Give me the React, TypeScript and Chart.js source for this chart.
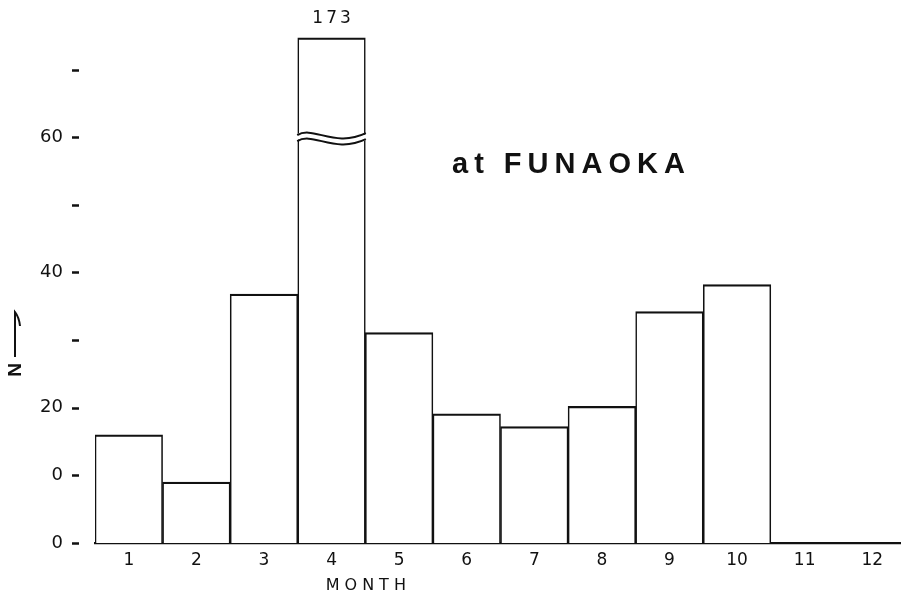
import React, { useEffect, useRef } from "react";
import { Chart, registerables } from "chart.js";

Chart.register(...registerables);

const MONTHS = ["1", "2", "3", "4", "5", "6", "7", "8", "9", "10", "11", "12"];
const COUNTS = [16, 9, 36.8, 173, 31.1, 19.1, 17.2, 20.2, 34.2, 38.2, 0, 0];
const Y_TICK_VALUES = [0, 10, 20, 30, 40, 50, 60, 70];
const Y_TICK_LABELS = ["0", "0", "20", "", "40", "", "60", ""];
const Y_MAX = 76;
const BREAK_CAP = 74.7; // drawn height of a bar that runs off the axis
const BREAK_AT = 60; // where the axis break wave is drawn
const TITLE = "at FUNAOKA";
const X_TITLE = "MONTH";
const Y_TITLE = "N";

const FONT = "'DejaVu Sans', sans-serif";

const annotations = {
  id: "annotations",
  afterDatasetsDraw(chart: any) {
    const ctx = chart.ctx;
    const meta = chart.getDatasetMeta(0);
    const y = chart.scales.y;
    const x = chart.scales.x;
    ctx.save();
    // tick dashes, detached from the plot like the original
    ctx.strokeStyle = "#111";
    ctx.lineWidth = 2.5;
    Y_TICK_VALUES.forEach((v) => {
      const py = Math.round(y.getPixelForValue(v)) + 0.5;
      ctx.beginPath();
      ctx.moveTo(72, py);
      ctx.lineTo(79, py);
      ctx.stroke();
    });
    // axis breaks for capped bars
    COUNTS.forEach((v, i) => {
      if (v <= BREAK_CAP) return;
      const el = meta.data[i];
      const half = el.width / 2;
      const L = el.x - half;
      const R = el.x + half;
      const w = R - L;
      const yc = y.getPixelForValue(BREAK_AT);
      const G = 6;
      // white gap
      ctx.beginPath();
      ctx.moveTo(L - 3, yc - 2);
      ctx.bezierCurveTo(L + 0.22 * w, yc - 12, L + 0.55 * w, yc + 11, R + 3, yc - 4);
      ctx.lineTo(R + 3, yc - 4 + G);
      ctx.bezierCurveTo(L + 0.55 * w, yc + 11 + G, L + 0.22 * w, yc - 12 + G, L - 3, yc - 2 + G);
      ctx.closePath();
      ctx.fillStyle = "#fff";
      ctx.fill();
      ctx.strokeStyle = "#111";
      ctx.lineWidth = 2;
      [0, G].forEach((off) => {
        ctx.beginPath();
        ctx.moveTo(L - 0.5, yc - 2 + off);
        ctx.bezierCurveTo(L + 0.22 * w, yc - 12 + off, L + 0.55 * w, yc + 11 + off, R + 0.5, yc - 4 + off);
        ctx.stroke();
      });
      // value label
      ctx.fillStyle = "#111";
      ctx.font = `17px ${FONT}`;
      (ctx as any).letterSpacing = "3px";
      ctx.textAlign = "center";
      ctx.textBaseline = "alphabetic";
      ctx.fillText(String(v), el.x + 1.5, 23);
    });
    // chart title
    ctx.fillStyle = "#111";
    ctx.font = `bold 29px 'Liberation Sans', sans-serif`;
    (ctx as any).letterSpacing = "6px";
    ctx.textAlign = "left";
    ctx.textBaseline = "alphabetic";
    ctx.fillText(TITLE, 452, 173);
    // x title
    ctx.font = `16px ${FONT}`;
    (ctx as any).letterSpacing = "5px";
    ctx.textAlign = "center";
    const tx = x.getPixelForValue(3.5);
    ctx.fillText(X_TITLE, tx + 3, 590);
    // y title with arrow
    (ctx as any).letterSpacing = "0px";
    ctx.save();
    ctx.translate(16, 370);
    ctx.rotate(-Math.PI / 2);
    ctx.font = `bold 19px 'Liberation Sans', sans-serif`;
    ctx.textAlign = "center";
    ctx.textBaseline = "middle";
    ctx.fillText(Y_TITLE, 0, 0);
    ctx.restore();
    ctx.strokeStyle = "#111";
    ctx.lineWidth = 2;
    ctx.beginPath();
    ctx.moveTo(15, 357);
    ctx.lineTo(15, 312);
    ctx.quadraticCurveTo(19, 317, 20, 326);
    ctx.stroke();
    ctx.restore();
  },
};

export default function App() {
  const ref = useRef<HTMLCanvasElement | null>(null);
  useEffect(() => {
    if (!ref.current) return;
    const chart = new Chart(ref.current, {
      type: "bar",
      data: {
        labels: MONTHS,
        datasets: [
          {
            data: COUNTS.map((v) => Math.min(v, BREAK_CAP)),
            backgroundColor: "#fff",
            borderColor: "#111",
            borderWidth: { top: 2.2, left: 1.6, right: 1.6, bottom: 0 },
            borderSkipped: false,
            categoryPercentage: 1,
            barPercentage: 1,
          },
        ],
      },
      options: {
        animation: false,
        responsive: false,
        devicePixelRatio: 1,
        layout: { padding: { top: 29, right: 14, left: 0, bottom: 0 } },
        plugins: { legend: { display: false }, tooltip: { enabled: false } },
        scales: {
          x: {
            grid: { display: false, drawTicks: false },
            border: { display: true, color: "#111", width: 2.2 },
            ticks: { color: "#111", font: { family: FONT, size: 17 }, padding: 7 },
            afterFit: (s: any) => {
              s.height = 55;
              s.paddingLeft = 0;
              s.paddingRight = 0;
            },
          },
          y: {
            min: 0,
            max: Y_MAX,
            grid: { display: false, drawTicks: false },
            border: { display: false },
            afterBuildTicks: (s: any) => {
              s.ticks = Y_TICK_VALUES.map((v) => ({ value: v }));
            },
            ticks: {
              color: "#111",
              font: { family: FONT, size: 18 },
              padding: 32,
              callback: (v: any) => {
                const i = Y_TICK_VALUES.indexOf(Number(v));
                return i >= 0 ? Y_TICK_LABELS[i] : "";
              },
            },
            afterFit: (s: any) => {
              s.width = 95;
              s.paddingTop = 0;
              s.paddingBottom = 0;
            },
          },
        },
      },
      plugins: [annotations],
    });
    return () => chart.destroy();
  }, []);
  return (
    <div
      style={{
        position: "fixed",
        left: 0,
        top: 0,
        width: 901,
        height: 598,
        overflow: "hidden",
        background: "#fff",
      }}
    >
      <canvas ref={ref} width={920} height={598} style={{ display: "block", width: 920, height: 598 }} />
    </div>
  );
}
